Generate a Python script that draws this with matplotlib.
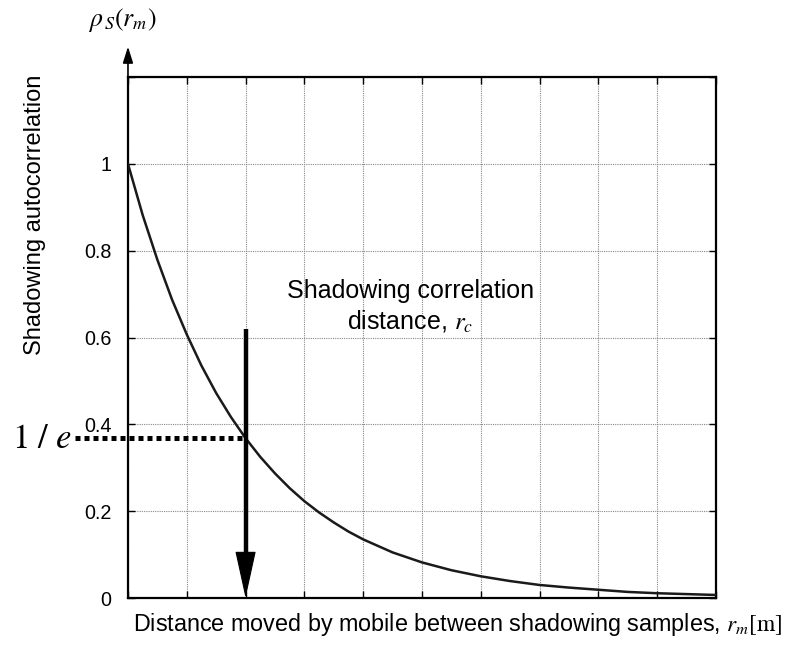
import matplotlib
matplotlib.use('Agg')
import matplotlib.pyplot as plt
import numpy as np

plt.rcParams['font.family'] = ['Liberation Sans', 'DejaVu Sans']
plt.rcParams['mathtext.fontset'] = 'stix'

# --- data (x in grid divisions, no x tick labels) ---
dist = [0, 0.25, 0.5, 0.75, 1, 1.25, 1.5, 1.75, 2, 2.25, 2.5, 2.75, 3,
        3.25, 3.5, 3.75, 4, 4.5, 5, 5.5, 6, 6.5, 7, 7.5, 8, 8.5, 9, 9.5, 10]
rho = [1.0, 0.882, 0.779, 0.687, 0.607, 0.535, 0.472, 0.417, 0.368, 0.325,
       0.287, 0.253, 0.223, 0.197, 0.174, 0.153, 0.135, 0.105, 0.082, 0.064,
       0.05, 0.039, 0.03, 0.024, 0.019, 0.014, 0.011, 0.009, 0.007]
y_ticks = [0, 0.2, 0.4, 0.6, 0.8, 1.0, 1.2]
y_labels = ['0', '0.2', '0.4', '0.6', '0.8', '1', '']
x_grid = list(range(0, 11))
r_c = 2
inv_e = 0.368

fig = plt.figure(figsize=(7.89, 6.61), dpi=100)
ax = fig.add_axes([0.1622, 0.0953, 0.7453, 0.7882])

ax.plot(dist, rho, color='#1a1a1a', lw=1.8, zorder=3)

ax.set_xlim(0, 10)
ax.set_ylim(0, 1.2)
ax.set_xticks(x_grid)
ax.set_xticklabels([])
ax.set_yticks(y_ticks)
ax.set_yticklabels(y_labels, fontsize=14.2)
ax.tick_params(direction='in', length=5, width=1, top=True, right=True, pad=12)
ax.grid(True, color='#888888', linestyle=(0, (1, 1)), lw=0.8)
for s in ax.spines.values():
    s.set_linewidth(1.6)

# correlation distance arrow: thick shaft + crisp head
ax.plot([r_c, r_c], [0.09, 0.62], color='black', lw=3.2, zorder=4,
        solid_capstyle='butt')
ax.annotate('', xy=(r_c, 0), xytext=(r_c, 0.1),
            arrowprops=dict(arrowstyle='-|>,head_length=1.55,head_width=0.34',
                            lw=0.8, color='black', mutation_scale=20,
                            shrinkA=0, shrinkB=0), zorder=5)

# 1/e dotted level
ax.plot([-0.9, r_c], [inv_e, inv_e], color='black', lw=3.6,
        linestyle=(0, (1, 0.8)), clip_on=False, zorder=4)
ax.text(-0.95, inv_e, r'$1\ /\ e$', fontsize=25, ha='right', va='center')

# y axis arrow
ax.annotate('', xy=(0, 1.27), xytext=(0, 1.2),
            arrowprops=dict(arrowstyle='-|>,head_length=0.7,head_width=0.22',
                            lw=1.2, color='black', mutation_scale=14,
                            shrinkA=0, shrinkB=0), annotation_clip=False)

ax.text(4.8, 0.672, 'Shadowing correlation\ndistance, $r_c$', fontsize=18,
        ha='center', va='center', linespacing=1.25)

fig.text(122 / 789, 1 - 20 / 661, r'$\rho_{\,S}(r_m)$', fontsize=18.5,
         ha='center', va='center')
fig.text(35 / 789, 1 - 215 / 661, 'Shadowing autocorrelation', fontsize=17,
         rotation=90, ha='center', va='center')
fig.text(458 / 789, 1 - 625 / 661,
         r'Distance moved by mobile between shadowing samples, $r_m[\mathrm{m}]$',
         fontsize=16.8, ha='center', va='center')

fig.savefig('out.png', dpi=100)
